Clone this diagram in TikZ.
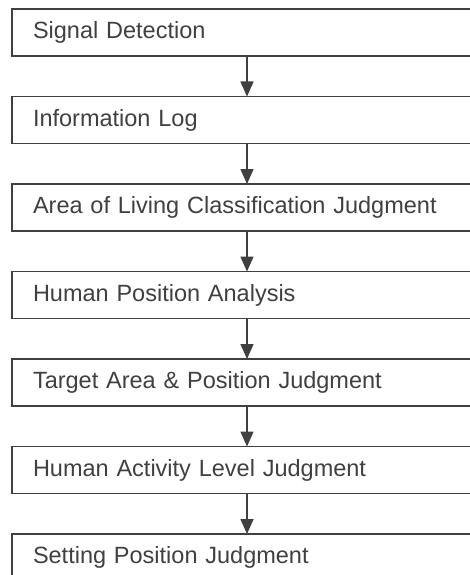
\documentclass[tikz,border=0pt]{standalone}
\usepackage{fontspec}
\setmainfont{Liberation Sans}
\usetikzlibrary{arrows.meta, positioning}

\begin{document}
\begin{tikzpicture}[
    x=1pt, y=1pt,
    node distance=40.5pt,
    stage/.style={draw=black!75, line width=1.4pt, rectangle, outer sep=0pt,
        minimum height=47pt, text width=430pt, inner xsep=21pt, align=left,
        text=black!75, font=\fontsize{23.5}{27}\selectfont},
    flow/.style={draw=black!75, line width=1.6pt,
        -{Triangle[length=15pt, width=13pt]}}
]
    \useasboundingbox (0,0) rectangle (470,-575);
    \clip (0,0) rectangle (470,-575);

    % stages
    \node[stage, anchor=north west] (sig) at (12,-9) {Signal Detection};
    \node[stage, below=of sig] (log) {Information Log};
    \node[stage, below=of log] (area) {Area of Living Classification Judgment};
    \node[stage, below=of area] (pos) {Human Position Analysis};
    \node[stage, below=of pos] (tgt) {Target Area \& Position Judgment};
    \node[stage, below=of tgt] (act) {Human Activity Level Judgment};
    \node[stage, below=of act] (set) {Setting Position Judgment};

    % arrows
    \coordinate (ax) at (247,0);
    \draw[flow] (sig.south -| ax) -- (log.north -| ax);
    \draw[flow] (log.south -| ax) -- (area.north -| ax);
    \draw[flow] (area.south -| ax) -- (pos.north -| ax);
    \draw[flow] (pos.south -| ax) -- (tgt.north -| ax);
    \draw[flow] (tgt.south -| ax) -- (act.north -| ax);
    \draw[flow] (act.south -| ax) -- (set.north -| ax);
\end{tikzpicture}
\end{document}
